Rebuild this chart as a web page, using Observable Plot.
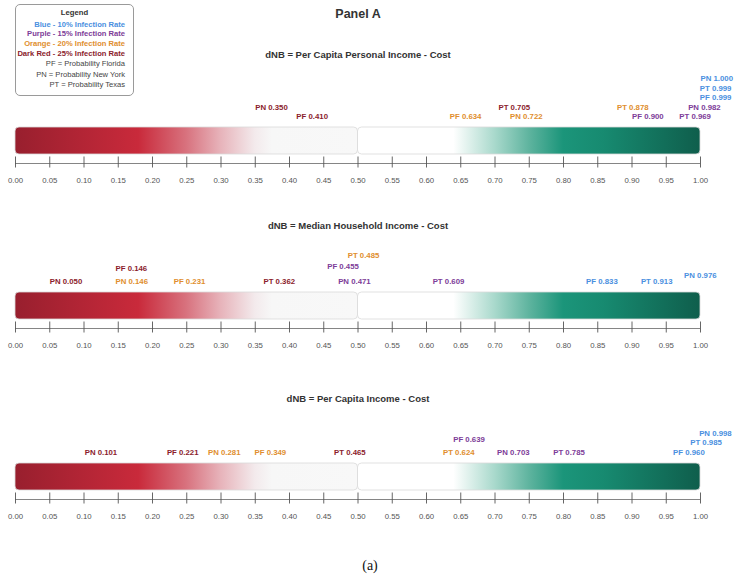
<!DOCTYPE html>
<html>
<head>
<meta charset="utf-8">
<script src="https://cdn.jsdelivr.net/npm/d3@7"></script>
<script src="https://cdn.jsdelivr.net/npm/@observablehq/plot@0.6"></script>
<style>
  html, body { margin: 0; padding: 0; background: #fff; }
  #root { position: relative; width: 737px; height: 580px; background: #fff; font-family: "Liberation Sans", Arial, sans-serif; overflow: hidden; }
  #mainTitle { position: absolute; left: 0; width: 716px; top: 6px; text-align: center; font-weight: bold; font-size: 12.5px; color: #333; line-height: 16px; }
  #legend { position: absolute; left: 15px; top: 4px; width: 119px; height: 92px; border: 1px solid #9a9a9a; border-radius: 5px; box-sizing: border-box; background: #fff; }
  #legend .ln { position: absolute; right: 8px; font-size: 7.6px; line-height: 10px; white-space: nowrap; }
  #legend .hd { position: absolute; left: 0; right: 0; text-align: center; font-size: 7.7px; font-weight: bold; color: #333; line-height: 10px; }
  .panel { position: absolute; left: 0; }
  #caption { position: absolute; left: 0; width: 740px; top: 557px; text-align: center; font-family: "Liberation Serif", "DejaVu Serif", serif; font-size: 14px; color: #111; line-height: 18px; }
</style>
</head>
<body>
<div id="root">
  <div id="mainTitle">Panel A</div>
  <div id="legend"></div>
  <div id="caption">(a)</div>
</div>
<script>
// ---------- data ----------
const panelTitles = [
  "dNB = Per Capita Personal Income - Cost",
  "dNB = Median Household Income - Cost",
  "dNB = Per Capita Income - Cost"
];
const rates = [10, 15, 20, 25];                       // infection rate (%)
const rateNames = ["Blue", "Purple", "Orange", "Dark Red"];
const rateColors = ["#4a8fe0", "#7d3c98", "#e08e2e", "#8b1c2c"];
const states = ["PF", "PN", "PT"];
const stateNames = ["Florida", "New York", "Texas"];

// values ordered by rate 10%, 15%, 20%, 25%
const panel1PF = [0.999, 0.900, 0.634, 0.410];
const panel1PN = [1.000, 0.982, 0.722, 0.350];
const panel1PT = [0.999, 0.969, 0.878, 0.705];

const panel2PF = [0.833, 0.455, 0.231, 0.146];
const panel2PN = [0.976, 0.471, 0.146, 0.050];
const panel2PT = [0.913, 0.609, 0.485, 0.362];

const panel3PF = [0.960, 0.639, 0.349, 0.221];
const panel3PN = [0.998, 0.703, 0.281, 0.101];
const panel3PT = [0.985, 0.785, 0.624, 0.465];

const tickValues = [0.00, 0.05, 0.10, 0.15, 0.20, 0.25, 0.30, 0.35, 0.40, 0.45, 0.50,
                    0.55, 0.60, 0.65, 0.70, 0.75, 0.80, 0.85, 0.90, 0.95, 1.00];

// ---------- label stacking (layout: rows above the bar) ----------
const panel1Rows = { PF: [2, 0, 0, 0], PN: [4, 1, 0, 1], PT: [3, 0, 1, 1] };
const panel2Rows = { PF: [0, 1.6, 0, 1.35], PN: [0.6, 0, 0, 0], PT: [0, 0, 2.75, 0] };
const panel3Rows = { PF: [0, 1.4, 0, 0], PN: [2, 0, 0, 0], PT: [1.05, 0, 0, 0] };

const panelValues = [
  { PF: panel1PF, PN: panel1PN, PT: panel1PT },
  { PF: panel2PF, PN: panel2PN, PT: panel2PT },
  { PF: panel3PF, PN: panel3PN, PT: panel3PT }
];
const panelRows = [panel1Rows, panel2Rows, panel3Rows];

// ---------- layout ----------
const FONT = "'Liberation Sans', Arial, sans-serif";
const panelTops = [37.3, 201.7, 372.7];
const titleOffsets = [-76.5, -70, -68.5];
const MT = 90, BAR = 27, MB = 45;
const rowStep = 9.5, rowBase = -14;

const redStops = [[0, "#981f2e"], [0.36, "#c92a3b"], [0.5, "#d8727e"], [0.6, "#e7b3ba"], [0.7, "#f3eaec"], [0.75, "#f7f7f7"], [1, "#f8f8f8"]];
const greenStops = [[0, "#ffffff"], [0.28, "#ffffff"], [0.4, "#a9d9cc"], [0.5, "#5fb49f"], [0.6, "#1b957a"], [0.72, "#178a70"], [1, "#0f5e4c"]];

// ---------- legend ----------
const legend = document.getElementById("legend");
const hd = document.createElement("div");
hd.className = "hd"; hd.style.top = (12.7 - 5 - 5) + "px"; hd.textContent = "Legend";
legend.appendChild(hd);
const legendLines = [
  ...rates.map((r, i) => ({ text: `${rateNames[i]} - ${r}% Infection Rate`, color: rateColors[i], bold: true })),
  ...states.map((s, i) => ({ text: `${s} = Probability ${stateNames[i]}`, color: "#444", bold: false }))
];
const legendY = [24, 33.2, 42.7, 52.7, 63, 73.7, 84.3];
legendLines.forEach((l, i) => {
  const d = document.createElement("div");
  d.className = "ln";
  d.style.top = (legendY[i] - 4 - 5) + "px";
  d.style.color = l.color;
  d.style.fontWeight = l.bold ? "bold" : "normal";
  d.textContent = l.text;
  legend.appendChild(d);
});

// ---------- panels ----------
function addGradient(defs, id, stops) {
  const g = defs.append("linearGradient").attr("id", id).attr("x1", "0%").attr("x2", "100%").attr("y1", "0%").attr("y2", "0%");
  stops.forEach(([o, c]) => g.append("stop").attr("offset", (o * 100) + "%").attr("stop-color", c));
}

const root = document.getElementById("root");
panelTitles.forEach((title, p) => {
  const rows = [];
  states.forEach(s => rates.forEach((r, ri) => rows.push({
    state: s, rate: r, value: panelValues[p][s][ri], row: panelRows[p][s][ri]
  })));
  const rowLevels = [...new Set(rows.map(d => d.row))];

  const labelMarks = rowLevels.map(level => Plot.text(rows.filter(d => d.row === level), {
    x: "value",
    frameAnchor: "top",
    dy: rowBase - level * rowStep,
    text: d => `${d.state} ${d.value.toFixed(3)}`,
    fill: "rate",
    textAnchor: "start",
    fontWeight: "bold",
    fontSize: 7.8
  }));

  const svg = Plot.plot({
    width: 737, height: MT + BAR + MB,
    marginLeft: 15, marginRight: 37, marginTop: MT, marginBottom: MB,
    style: { background: "transparent", fontFamily: FONT, overflow: "visible" },
    x: { domain: [0, 1], axis: null },
    y: { domain: [0, 1], axis: null },
    color: { type: "ordinal", domain: rates, range: rateColors },
    marks: [
      Plot.text([title], { frameAnchor: "top", dy: titleOffsets[p], fontWeight: "bold", fontSize: 9.5, fill: "#333" }),
      Plot.rect([{ a: 0, b: 0.5 }], { x1: "a", x2: "b", y1: 0, y2: 1, fill: `url(#redGrad${p})`, stroke: "#d9d9d9", strokeWidth: 0.8, rx: 4 }),
      Plot.rect([{ a: 0.5, b: 1 }], { x1: "a", x2: "b", y1: 0, y2: 1, fill: `url(#greenGrad${p})`, stroke: "#d9d9d9", strokeWidth: 0.8, rx: 4 }),
      Plot.ruleY([0], { x1: 0, x2: 1, dy: 9, stroke: "#777", strokeWidth: 0.9 }),
      Plot.axisX({ ticks: tickValues, tickSize: 11, tickPadding: 9, dy: 2.5, tickFormat: d3.format(".2f"), fontSize: 7.8, color: "#555", strokeWidth: 0.9 }),
      ...labelMarks
    ]
  });
  const defs = d3.select(svg).insert("defs", ":first-child");
  addGradient(defs, `redGrad${p}`, redStops);
  addGradient(defs, `greenGrad${p}`, greenStops);

  const holder = document.createElement("div");
  holder.className = "panel";
  holder.style.top = panelTops[p] + "px";
  holder.appendChild(svg);
  root.appendChild(holder);
});
</script>
</body>
</html>
